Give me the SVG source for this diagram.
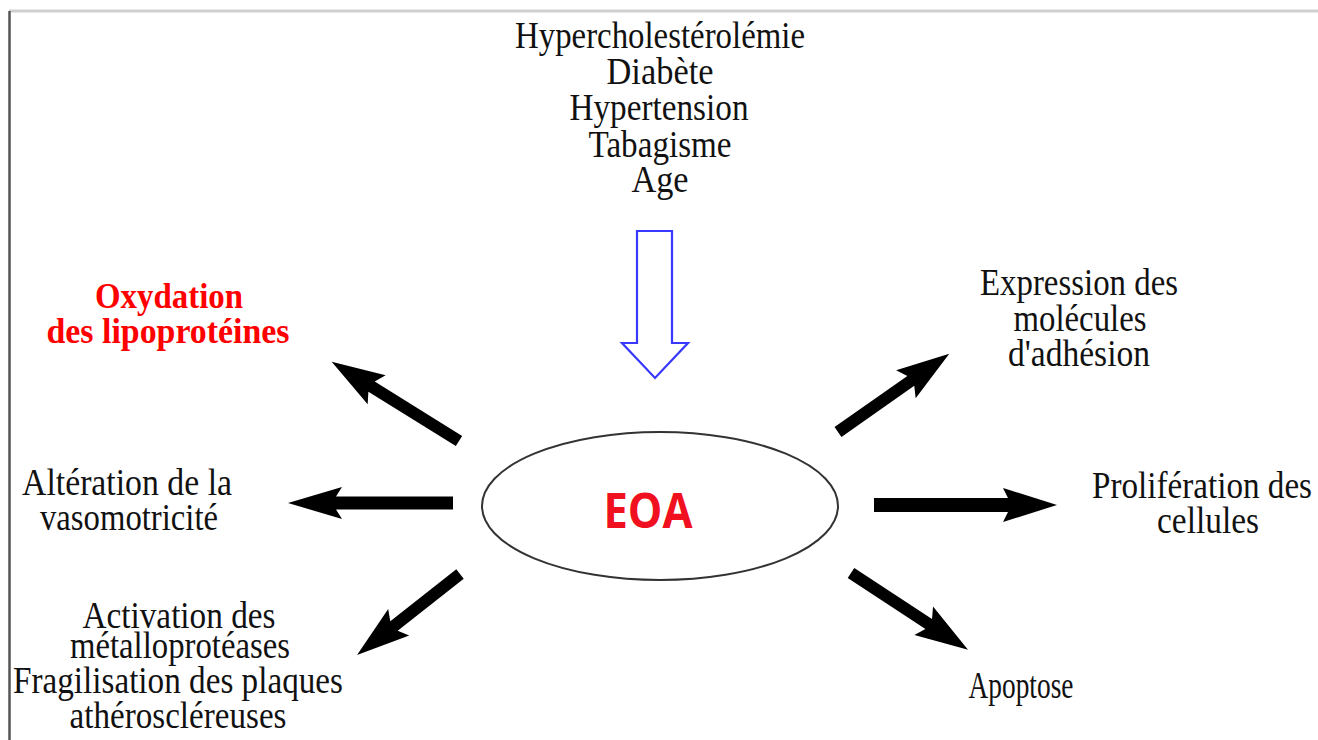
<svg xmlns="http://www.w3.org/2000/svg" width="1318" height="740" viewBox="0 0 1318 740">
<style>
.t{font-family:"Liberation Serif","Times New Roman",serif;font-size:38px;fill:#111;text-anchor:middle}
.r{font-family:"Liberation Serif","Times New Roman",serif;font-size:36px;font-weight:bold;fill:#ff0000;text-anchor:middle}
.eoa{font-family:"Open Sans","Liberation Sans",sans-serif;font-size:48px;font-weight:bold;fill:#f01020;text-anchor:middle}
.arr{fill:#000}
</style>
<rect x="0" y="0" width="1318" height="740" fill="#fff"/>
<g id="frame">
<line x1="9" y1="11" x2="1318" y2="11" stroke="#cfcfcf" stroke-width="3"/>
<line x1="9.5" y1="11" x2="9.5" y2="740" stroke="#555" stroke-width="2.5"/>
</g>
<g id="factors">
<text class="t" x="660" y="48" textLength="290" lengthAdjust="spacingAndGlyphs">Hypercholestérolémie</text>
<text class="t" x="660" y="84" textLength="107" lengthAdjust="spacingAndGlyphs">Diabète</text>
<text class="t" x="659" y="120" textLength="179" lengthAdjust="spacingAndGlyphs">Hypertension</text>
<text class="t" x="660" y="157" textLength="143" lengthAdjust="spacingAndGlyphs">Tabagisme</text>
<text class="t" x="660" y="192" textLength="57" lengthAdjust="spacingAndGlyphs">Age</text>
</g>
<g id="blue-arrow">
<polygon points="637,231 672,231 672,343 688,343 655,378 622,343 637,343" fill="#fff" stroke="#3838ff" stroke-width="2.2" stroke-linejoin="miter"/>
</g>
<g id="eoa">
<ellipse cx="660" cy="506" rx="178" ry="74" fill="#fff" stroke="#333" stroke-width="2"/>
<text class="eoa" x="648" y="528" textLength="89" lengthAdjust="spacingAndGlyphs">EOA</text>
</g>
<g id="connectors">
<path class="arr" transform="translate(459,441) rotate(-148.1)" d="M0,-6 L103,-6 L97,-17 L150,0 L97,17 L103,6 L0,6 Z"/>
<path class="arr" transform="translate(453,503) rotate(180)" d="M0,-6.5 L117,-6.5 L111,-16 L165,0 L111,16 L117,6.5 L0,6.5 Z"/>
<path class="arr" transform="translate(460,574) rotate(141.8)" d="M0,-6 L84,-6 L78,-17 L131,0 L78,17 L84,6 L0,6 Z"/>
<path class="arr" transform="translate(838,432) rotate(-35.1)" d="M0,-6 L89,-6 L83,-17 L136,0 L83,17 L89,6 L0,6 Z"/>
<path class="arr" transform="translate(874,505) rotate(0)" d="M0,-7 L134,-7 L129,-17 L183,0 L129,17 L134,7 L0,7 Z"/>
<path class="arr" transform="translate(851,573) rotate(33.3)" d="M0,-6 L93,-6 L87,-17 L140,0 L87,17 L93,6 L0,6 Z"/>
</g>
<g id="oxydation">
<text class="r" x="169" y="308" textLength="148" lengthAdjust="spacingAndGlyphs">Oxydation</text>
<text class="r" x="168" y="343" textLength="243" lengthAdjust="spacingAndGlyphs">des lipoprotéines</text>
</g>
<g id="vasomotricite">
<text class="t" x="127" y="495" textLength="210" lengthAdjust="spacingAndGlyphs">Altération de la</text>
<text class="t" x="129" y="530" textLength="178" lengthAdjust="spacingAndGlyphs">vasomotricité</text>
</g>
<g id="metalloproteases">
<text class="t" x="179" y="628" textLength="193" lengthAdjust="spacingAndGlyphs">Activation des</text>
<text class="t" x="180" y="658" textLength="220" lengthAdjust="spacingAndGlyphs">métalloprotéases</text>
<text class="t" x="178" y="693" textLength="330" lengthAdjust="spacingAndGlyphs">Fragilisation des plaques</text>
<text class="t" x="178" y="728" textLength="217" lengthAdjust="spacingAndGlyphs">athéroscléreuses</text>
</g>
<g id="adhesion">
<text class="t" x="1079" y="295" textLength="198" lengthAdjust="spacingAndGlyphs">Expression des</text>
<text class="t" x="1080" y="331" textLength="133" lengthAdjust="spacingAndGlyphs">molécules</text>
<text class="t" x="1079" y="366" textLength="142" lengthAdjust="spacingAndGlyphs">d'adhésion</text>
</g>
<g id="proliferation">
<text class="t" x="1202" y="498" textLength="220" lengthAdjust="spacingAndGlyphs">Prolifération des</text>
<text class="t" x="1208" y="533" textLength="102" lengthAdjust="spacingAndGlyphs">cellules</text>
</g>
<g id="apoptose">
<text class="t" transform="translate(1021,698) scale(0.72,1)" x="0" y="0">Apoptose</text>
</g>
</svg>
